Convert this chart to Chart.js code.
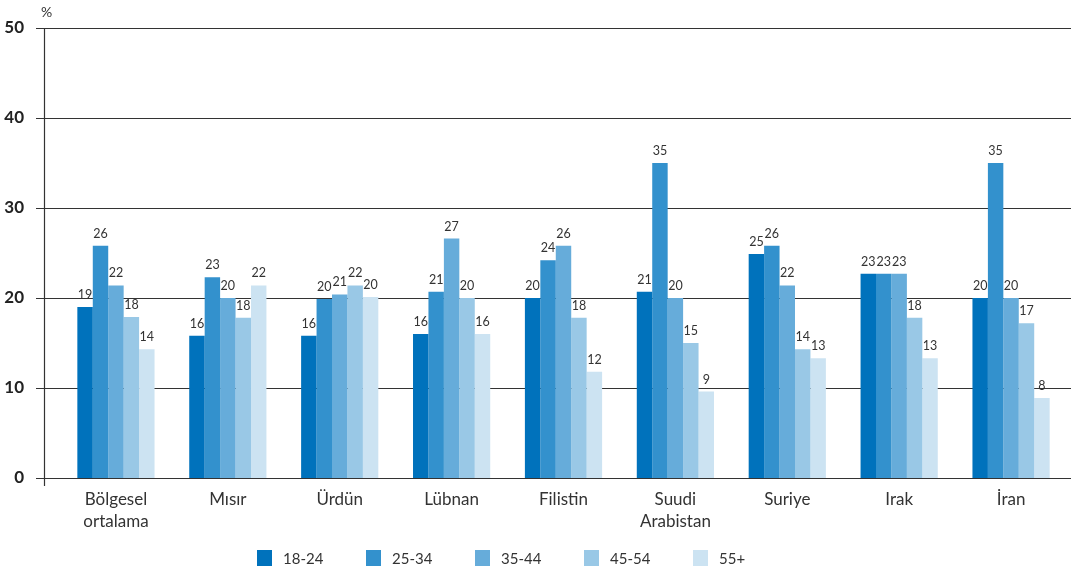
<!DOCTYPE html>
<html><head><meta charset="utf-8">
<script src="https://cdn.jsdelivr.net/npm/chart.js@4"></script>
<style>html,body{margin:0;padding:0;background:#fff}#wrap{width:1071px;height:582px;position:relative}</style>
</head><body><div id="wrap"><canvas id="c"></canvas></div>
<script>
const categories = [["Bölgesel","ortalama"],"Mısır","Ürdün","Lübnan","Filistin",["Suudi","Arabistan"],"Suriye","Irak","İran"];
const seriesNames = ["18-24","25-34","35-44","45-54","55+"];
const v1824 = [19.0,15.8,15.8,16.0,20.0,20.7,24.9,22.7,20.0];
const v2534 = [25.8,22.3,19.9,20.7,24.2,35.0,25.8,22.7,35.0];
const v3544 = [21.4,20.0,20.4,26.6,25.8,20.0,21.4,22.7,20.0];
const v4554 = [17.9,17.8,21.4,20.0,17.8,15.0,14.3,17.8,17.2];
const v55 = [14.3,21.4,20.1,16.0,11.8,9.6,13.3,13.3,8.9];
const l1824 = [19,16,16,16,20,21,25,23,20];
const l2534 = [26,23,20,21,24,35,26,23,35];
const l3544 = [22,20,21,27,26,20,22,23,20];
const l4554 = [18,18,22,20,18,15,14,18,17];
const l55 = [14,22,20,16,12,9,13,13,8];
const yTicks = [0,10,20,30,40,50];
const colors = ["#0072BC","#3391CD","#66ACDA","#99C8E6","#CCE3F2"];
const values = [v1824,v2534,v3544,v4554,v55];
const labels = [l1824,l2534,l3544,l4554,l55];
const FONT = "Lato, 'Open Sans', sans-serif";

const decor = {
  id:'decor',
  beforeDatasetsDraw(chart){
    const ctx = chart.ctx, y = chart.scales.y;
    ctx.save();
    ctx.strokeStyle = '#333'; ctx.lineWidth = 1.2;
    yTicks.forEach(t=>{
      const py = Math.round(y.getPixelForValue(t))+0.5;
      ctx.beginPath(); ctx.moveTo(36,py); ctx.lineTo(1071,py); ctx.stroke();
    });
    ctx.beginPath(); ctx.moveTo(44.5, y.getPixelForValue(50)); ctx.lineTo(44.5, y.getPixelForValue(0)+8); ctx.stroke();
    ctx.fillStyle = '#333'; ctx.font = "14px " + FONT; ctx.textAlign='left'; ctx.textBaseline='middle';
    ctx.fillText('%', 41, 12);
    ctx.restore();
  },
  afterDatasetsDraw(chart){
    const ctx = chart.ctx;
    ctx.save();
    ctx.fillStyle = '#333'; ctx.font = "12.5px " + FONT; ctx.textAlign='center'; ctx.textBaseline='alphabetic';
    chart.data.datasets.forEach((ds,i)=>{
      const meta = chart.getDatasetMeta(i);
      meta.data.forEach((bar,j)=>{
        ctx.fillText(String(labels[i][j]), bar.x, bar.y - 8);
      });
    });
    // legend
    ctx.font = "15px " + FONT; ctx.textAlign='left'; ctx.textBaseline='middle';
    chart.data.datasets.forEach((ds,i)=>{
      const x = 257 + i*109, yc = 558;
      ctx.fillStyle = ds.backgroundColor;
      ctx.fillRect(x, yc-8, 15, 16);
      ctx.fillStyle = '#333';
      ctx.fillText(ds.label, x + 26, yc + 1);
    });
    ctx.restore();
  }
};

new Chart(document.getElementById('c'), {
  type:'bar',
  data:{
    labels: categories,
    datasets: seriesNames.map((n,i)=>({label:n, data:values[i], backgroundColor:colors[i], borderWidth:0, barPercentage:1, categoryPercentage:0.69}))
  },
  options:{
    responsive:true, maintainAspectRatio:false, animation:false,
    layout:{padding:{top:28,right:4,left:0,bottom:0}},
    plugins:{
      legend:{display:false},
      tooltip:{enabled:false}
    },
    scales:{
      x:{grid:{display:false}, border:{display:false}, afterFit(s){s.height=104; s.paddingLeft=0; s.paddingRight=0;}, ticks:{color:'#333', font:{family:FONT,size:17,lineHeight:1.3}, padding:2, maxRotation:0}},
      y:{min:0,max:50, afterFit(s){s.width=60; s.paddingTop=0; s.paddingBottom=0;}, afterBuildTicks(s){s.ticks=yTicks.map(v=>({value:v}));},
         grid:{display:false}, border:{display:false},
         ticks:{color:'#222', padding:28, font:{family:FONT,size:17,weight:'bold'}}}
    }
  },
  plugins:[decor]
});
</script></body></html>
